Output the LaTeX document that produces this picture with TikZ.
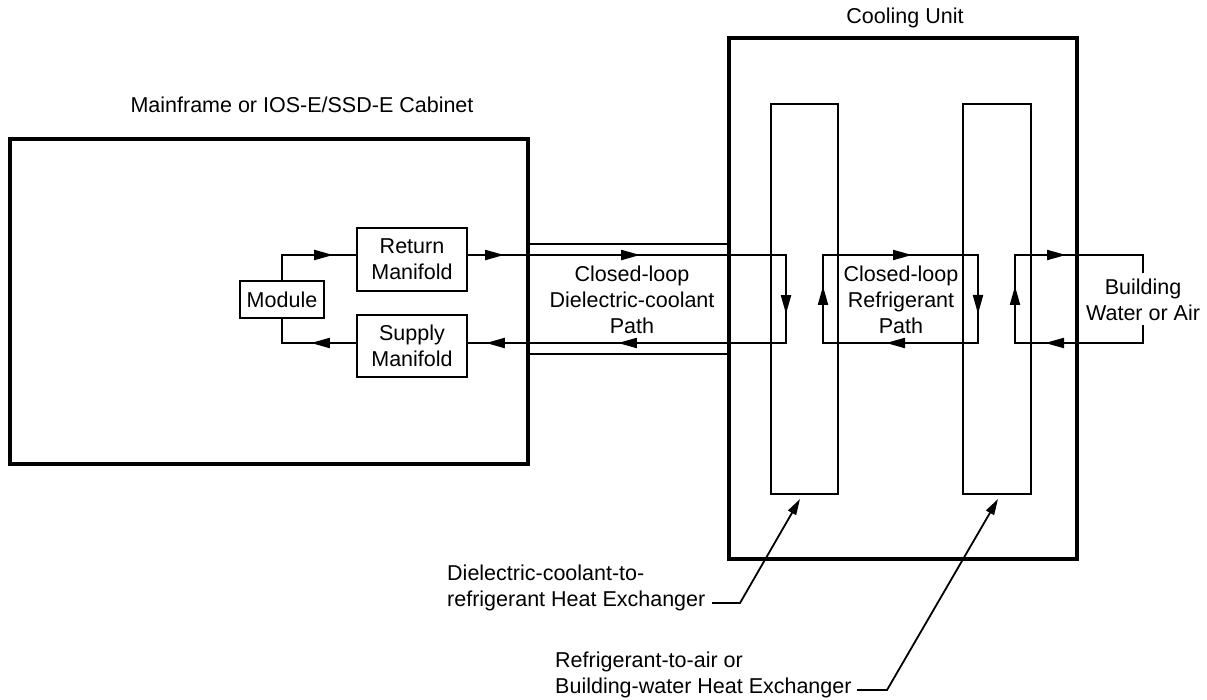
\documentclass[tikz,border=0pt]{standalone}
\usepackage{fontspec}
\setmainfont{Liberation Sans}
\usetikzlibrary{arrows.meta,decorations.markings}
\tikzset{
  ftip/.tip={Triangle[length=19pt,width=10pt]},
  ltip/.tip={Triangle[length=16pt,width=9pt]},
  txt/.style={font=\fontsize{21.5}{26}\selectfont, align=center, inner sep=0pt},
  bigbox/.style={draw, line width=3.5pt, inner sep=0pt},
  smallbox/.style={draw, line width=2.2pt, inner sep=0pt, font=\fontsize{21.5}{26}\selectfont, align=center},
  hxbox/.style={draw, line width=2pt, inner sep=0pt},
  flow/.style={line width=2pt},
  pipe/.style={line width=2.8pt},
  leader/.style={line width=1.8pt, -ltip},
  m1/.style={postaction={decorate, decoration={markings, mark=at position #1 with {\arrow{ftip}}}}},
}
\begin{document}
\begin{tikzpicture}[x=1pt, y=-1pt]
\useasboundingbox (0,0) rectangle (1207,700);
% main boxes
\node[bigbox, minimum width=518pt, minimum height=325pt] (cab) at (269,301.5) {};
\node[bigbox, minimum width=348pt, minimum height=521pt] (cool) at (903,298.5) {};
\node[hxbox, minimum width=67pt, minimum height=390pt] (hx1) at (804.5,299) {};
\node[hxbox, minimum width=68pt, minimum height=390pt] (hx2) at (997,299) {};
% titles
\node[txt] (cabt) at (302,105) {Mainframe or IOS-E/SSD-E Cabinet};
\node[txt] (coolt) at (905,18) {Cooling Unit};
% inner boxes
\node[smallbox, minimum width=84pt, minimum height=37pt] (mod) at (282,299.5) {Module};
\node[smallbox, minimum width=110pt, minimum height=63pt] (ret) at (412,259.5) {Return\\Manifold};
\node[smallbox, minimum width=110pt, minimum height=62pt] (sup) at (412,346) {Supply\\Manifold};
\coordinate (u) at (0,255);
\coordinate (l) at (0,343);
% pipes
\draw[pipe] (cab.east |- 0,244) -- (cool.west |- 0,244);
\draw[pipe] (cab.east |- 0,354) -- (cool.west |- 0,354);
% module loop
\draw[flow, m1=76pt] (mod.north) |- (ret.west |- u);
\draw[flow, m1=45pt] (sup.west |- l) -| (mod.south);
% dielectric loop
\draw[flow,
  postaction={decorate, decoration={markings,
    mark=at position 36pt with {\arrow{ftip}},
    mark=at position 172pt with {\arrow{ftip}},
    mark=at position 377pt with {\arrow{ftip}},
    mark=at position 574pt with {\arrow{ftip}},
    mark=at position 706pt with {\arrow{ftip}}}}]
  (ret.east |- u) -- (786,255) -- (786,343) -- (sup.east |- l);
\node[txt] (dtxt) at (632,300) {Closed-loop\\Dielectric-coolant\\Path};
% refrigerant loop
\draw[flow,
  postaction={decorate, decoration={markings,
    mark=at position 57pt with {\arrow{ftip}},
    mark=at position 177pt with {\arrow{ftip}},
    mark=at position 302pt with {\arrow{ftip}},
    mark=at position 423pt with {\arrow{ftip}}}}]
  (823,343) -- (823,255) -- (978,255) -- (978,343) -- cycle;
\node[txt] (rtxt) at (901,300) {Closed-loop\\Refrigerant\\Path};
% building loop
\node[txt] (btxt) at (1143,300) {Building\\Water or Air};
\draw[flow,
  postaction={decorate, decoration={markings,
    mark=at position 116pt with {\arrow{ftip}},
    mark=at position 203pt with {\arrow{ftip}},
    mark=at position 285pt with {\arrow{ftip}}}}]
  (1143,325) -- (1143,343) -- (1015,343) -- (1015,255) -- (1143,255) -- (1143,273);
% leaders
\node[txt, align=left, anchor=west] (l1) at (447,588) {Dielectric-coolant-to-\\refrigerant Heat Exchanger};
\node[txt, align=left, anchor=west] (l2) at (555,675) {Refrigerant-to-air or\\Building-water Heat Exchanger};
\coordinate (l1s) at (712,603);
\coordinate (l2s) at (857,690);
\draw[leader] (l1s) -- (740,603) -- ([xshift=-4.5pt,yshift=-4pt]hx1.south);
\draw[leader] (l2s) -- (887,690) -- ([xshift=1pt,yshift=-4pt]hx2.south);
\end{tikzpicture}
\end{document}
